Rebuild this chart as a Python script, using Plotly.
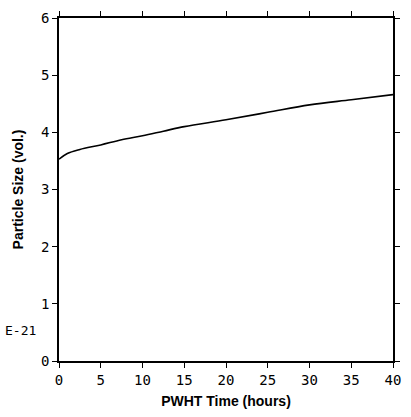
import plotly.graph_objects as go

# Data
hours = [0, 1, 2.5, 5, 7.5, 10, 12.5, 15, 20, 25, 30, 35, 40]
particle_size = [3.53, 3.63, 3.70, 3.78, 3.87, 3.94, 4.02, 4.10, 4.22, 4.35, 4.48, 4.57, 4.66]
x_ticks = [0, 5, 10, 15, 20, 25, 30, 35, 40]
y_ticks = [0, 1, 2, 3, 4, 5, 6]

tick_font = dict(family="DejaVu Sans Mono", size=14, color="black")
title_font = dict(family="Liberation Sans", size=14, color="black")

fig = go.Figure()
fig.add_trace(go.Scatter(x=hours, y=particle_size, mode="lines",
                         line=dict(color="black", width=1.6, shape="spline"),
                         showlegend=False, hoverinfo="skip"))

axis_common = dict(showline=True, linecolor="black", linewidth=1.6, mirror="allticks",
                   ticks="outside", ticklen=5, tickwidth=1.4, tickcolor="black",
                   showgrid=False, zeroline=False, tickfont=tick_font)

fig.update_layout(
    width=411, height=417,
    margin=dict(l=59, r=10, t=12, b=55),
    paper_bgcolor="white", plot_bgcolor="white",
    xaxis=dict(range=[0, 40], tickvals=x_ticks, ticktext=[str(v) for v in x_ticks],
               title=dict(text="<b>PWHT Time (hours)</b>", font=title_font, standoff=10),
               **axis_common),
    yaxis=dict(range=[0, 6], tickvals=y_ticks, ticktext=[str(v) for v in y_ticks],
               title=dict(text="<b>Particle Size (vol.)</b>", font=title_font, standoff=14),
               **axis_common),
    annotations=[dict(text="E-21", xref="paper", yref="paper", x=-0.114, y=0.09,
                      xanchor="center", yanchor="middle", showarrow=False,
                      font=dict(family="DejaVu Sans Mono", size=13, color="black"))],
)

fig.write_html("out.html")
